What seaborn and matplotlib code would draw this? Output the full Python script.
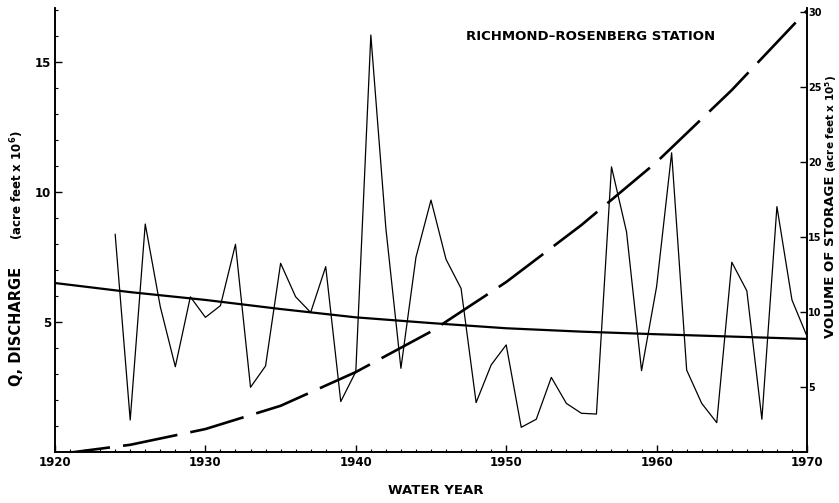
import matplotlib
matplotlib.use("Agg")
import matplotlib.pyplot as plt
import seaborn as sns
import pandas as pd

# discharge, acre feet x 10^6
years = list(range(1924, 1971))
discharge = [8.38, 1.23, 8.77, 5.59, 3.28, 5.97, 5.18, 5.63, 7.99, 2.49,
             3.31, 7.26, 5.97, 5.37, 7.13, 1.94, 3.09, 16.04, 8.6, 3.22,
             7.49, 9.69, 7.41, 6.29, 1.90, 3.35, 4.12, 0.95, 1.26, 2.87,
             1.87, 1.49, 1.46, 10.97, 8.47, 3.13, 6.36, 11.51, 3.15, 1.87,
             1.13, 7.30, 6.20, 1.26, 9.44, 5.85, 4.45]

# trend of discharge
trend_years = [1920, 1925, 1930, 1935, 1940, 1945, 1950, 1955, 1960, 1965, 1970]
trend = [6.5, 6.15, 5.85, 5.5, 5.18, 4.96, 4.76, 4.63, 4.53, 4.44, 4.35]

# volume of storage, acre feet x 10^5 (dashed curve)
storage_years = [1920, 1925, 1930, 1935, 1940, 1945, 1950, 1955, 1960, 1965, 1970]
storage = [0.5, 1.15, 2.2, 3.75, 6.0, 8.7, 12.0, 15.8, 20.0, 24.8, 30.1]

W, H = 839, 503

sns.set_theme(style="white")
plt.rcParams["font.family"] = ["DejaVu Sans"]
plt.rcParams["font.weight"] = "bold"
plt.rcParams["text.color"] = "black"
plt.rcParams["axes.labelcolor"] = "black"

fig = plt.figure(figsize=(W / 100, H / 100), dpi=100)
ax = fig.add_axes([55 / W, 1 - 452 / H, 752 / W, 444 / H])
ax2 = ax.twinx()

df_q = pd.DataFrame({"year": years, "q": discharge})
df_t = pd.DataFrame({"year": trend_years, "q": trend})
df_s = pd.DataFrame({"year": storage_years, "s": storage})

sns.lineplot(data=df_q, x="year", y="q", ax=ax, color="black", linewidth=0.9)
sns.lineplot(data=df_t, x="year", y="q", ax=ax, color="black", linewidth=1.6)
sns.lineplot(data=df_s, x="year", y="s", ax=ax2, color="black", linewidth=1.9)
ax2.lines[0].set_dashes([21, 5])

ax.set_xlim(1920, 1970)
ax.set_ylim(0, 17.08)
ax2.set_ylim(0.67, 30.27)

ax.set_xticks(range(1920, 1971, 10))
ax.set_xticks(range(1920, 1971), minor=True)
ax.set_yticks([5, 10, 15])
ax.set_yticks(range(1, 18), minor=True)
ax2.set_yticks(range(5, 31, 5))

for a in (ax, ax2):
    a.set_xlabel("")
    a.set_ylabel("")
    a.spines["top"].set_visible(False)
    for s in ("left", "right", "bottom"):
        a.spines[s].set_color("black")
        a.spines[s].set_linewidth(1.2)
    a.tick_params(direction="in", which="major", length=5, width=1, colors="black",
                  labelsize=8.5, pad=3)
    a.tick_params(direction="in", which="minor", length=2.5, width=0.8, colors="black")
    for lab in a.get_xticklabels() + a.get_yticklabels():
        lab.set_fontweight("bold")

ax.tick_params(axis="y", which="both", left=True, right=False)
ax.tick_params(axis="x", which="both", bottom=True)
ax2.tick_params(axis="y", which="both", right=True, left=False, labelsize=7, pad=1)

fig.text(436 / W, 1 - 491 / H, "WATER YEAR", ha="center", va="center",
         fontsize=9.5, fontweight="bold")
fig.text(591 / W, 1 - 37 / H, "RICHMOND\u2013ROSENBERG STATION", ha="center", va="center",
         fontsize=9.5, fontweight="bold")

fig.text(17 / W, 1 - 386 / H, "Q, DISCHARGE", rotation=90, ha="center", va="bottom",
         fontsize=10.5, fontweight="bold")
fig.text(17 / W, 1 - 240 / H, r"(acre feet x 10$^\mathbf{6}$)", rotation=90, ha="center",
         va="bottom", fontsize=8.5, fontweight="bold")
fig.text(831 / W, 1 - 338 / H, "VOLUME OF STORAGE", rotation=90, ha="center", va="bottom",
         fontsize=9.5, fontweight="bold")
fig.text(831.5 / W, 1 - 172 / H, r"(acre feet x 10$^\mathbf{5}$)", rotation=90, ha="center",
         va="bottom", fontsize=7.5, fontweight="bold")

fig.savefig("out.png", dpi=100)
